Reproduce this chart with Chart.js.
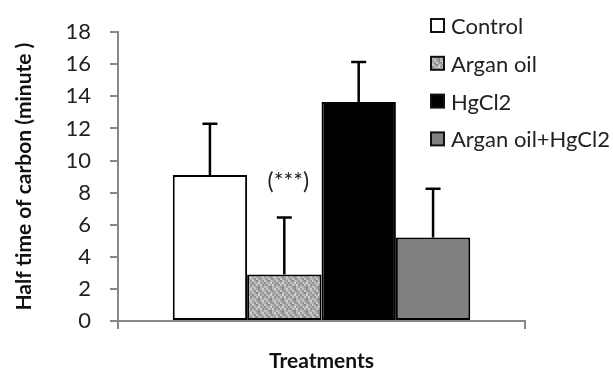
<!DOCTYPE html>
<html lang="en">
<head>
    <meta charset="UTF-8">
    <title>Half time of carbon</title>
    <script src="https://cdn.jsdelivr.net/npm/chart.js"></script>
    <style>
        body { margin: 0; background: #fff; }
        #wrap { width: 613px; height: 373px; }
    </style>
</head>
<body>
    <div id="wrap"><canvas id="chart" width="613" height="373"></canvas></div>
    <script>
        // data
        var treatments = ['Control', 'Argan oil', 'HgCl2', 'Argan oil+HgCl2'];
        var halfTime = [9.1, 2.9, 13.65, 5.2];
        var errors = [3.2, 3.55, 2.5, 3.05];
        var yTicks = [0, 2, 4, 6, 8, 10, 12, 14, 16, 18];
        var signif = ['', '(***)', '', ''];
        var signifY = [0, 8.7, 0, 0];

        var FONT = 'Lato, "Open Sans", sans-serif';

        // grainy grey fill for the argan oil bar (fixed tile, no random)
        function grainPattern() {
            var shades = [
                '#9a9a9a','#c4c4c4','#a8a8a8','#8c8c8c','#b8b8b8','#d0d0d0',
                '#b4b4b4','#909090','#cccccc','#a0a0a0','#949494','#bcbcbc',
                '#c8c8c8','#a4a4a4','#888888','#c0c0c0','#b0b0b0','#989898',
                '#8e8e8e','#bebebe','#acacac','#d4d4d4','#9c9c9c','#b2b2b2',
                '#aaaaaa','#969696','#c6c6c6','#a2a2a2','#cecece','#929292',
                '#c2c2c2','#b6b6b6','#9e9e9e','#8a8a8a','#bababa','#a6a6a6'
            ];
            var c = document.createElement('canvas');
            c.width = 12; c.height = 12;
            var g = c.getContext('2d');
            for (var i = 0; i < 36; i++) {
                g.fillStyle = shades[i];
                g.fillRect((i % 6) * 2, Math.floor(i / 6) * 2, 2, 2);
            }
            return g.createPattern(c, 'repeat');
        }

        var fills = ['#ffffff', grainPattern(), '#000000', '#808080'];

        var datasets = treatments.map(function(name, i) {
            return {
                label: name,
                data: [halfTime[i]],
                err: errors[i],
                note: signif[i],
                noteY: signifY[i],
                backgroundColor: fills[i],
                borderColor: '#000000',
                borderWidth: 2,
                borderSkipped: false,
                categoryPercentage: 0.731,
                barPercentage: 1
            };
        });

        // error bars, significance mark and legend
        var extras = {
            id: 'extras',
            afterDatasetsDraw: function(chart) {
                var ctx = chart.ctx;
                var y = chart.scales.y;
                ctx.save();
                chart.data.datasets.forEach(function(ds, i) {
                    var bar = chart.getDatasetMeta(i).data[0];
                    var top = y.getPixelForValue(ds.data[0] + ds.err);
                    ctx.strokeStyle = '#000';
                    ctx.lineWidth = 2.5;
                    ctx.beginPath();
                    ctx.moveTo(bar.x, bar.y);
                    ctx.lineTo(bar.x, top);
                    ctx.moveTo(bar.x - 7.5, top);
                    ctx.lineTo(bar.x + 7.5, top);
                    ctx.stroke();
                    if (ds.note) {
                        ctx.fillStyle = '#222';
                        ctx.font = '23px ' + FONT;
                        ctx.textAlign = 'center';
                        ctx.textBaseline = 'middle';
                        ctx.fillText(ds.note, bar.x + 4, y.getPixelForValue(ds.noteY));
                    }
                });
                ctx.restore();
            },
            afterDraw: function(chart) {
                var ctx = chart.ctx;
                ctx.save();
                ctx.font = '22px ' + FONT;
                ctx.textBaseline = 'middle';
                ctx.textAlign = 'left';
                chart.data.datasets.forEach(function(ds, i) {
                    var cy = 26 + i * 37.8;
                    ctx.fillStyle = ds.backgroundColor;
                    ctx.fillRect(431, cy - 7, 13, 13);
                    ctx.strokeStyle = '#111';
                    ctx.lineWidth = 2;
                    ctx.strokeRect(431, cy - 7, 13, 13);
                    ctx.fillStyle = '#222';
                    ctx.fillText(ds.label, 451, cy + 1);
                });
                ctx.restore();
            }
        };

        new Chart(document.getElementById('chart'), {
            type: 'bar',
            data: { labels: [''], datasets: datasets },
            options: {
                responsive: false,
                animation: false,
                layout: { padding: { left: 0, right: 88, top: 30, bottom: 0 } },
                plugins: { legend: { display: false }, tooltip: { enabled: false } },
                scales: {
                    x: {
                        grid: { drawOnChartArea: false, color: '#888', lineWidth: 2, tickLength: 8 },
                        border: { color: '#888', width: 2 },
                        ticks: { display: false },
                        title: {
                            display: true,
                            text: 'Treatments',
                            color: '#111',
                            font: { family: FONT, size: 21, weight: 'bold', lineHeight: 1 },
                            padding: { top: 0, bottom: 1 }
                        },
                        afterFit: function(s) { s.height = 52; }
                    },
                    y: {
                        min: 0,
                        max: 18,
                        afterBuildTicks: function(s) {
                            s.ticks = yTicks.map(function(v) { return { value: v }; });
                        },
                        grid: { drawOnChartArea: false, color: '#888', lineWidth: 2, tickLength: 8 },
                        border: { color: '#888', width: 2 },
                        ticks: { color: '#222', padding: 19, font: { family: FONT, size: 22 } },
                        title: {
                            display: true,
                            text: 'Half time of carbon (minute )',
                            color: '#111',
                            font: { family: FONT, size: 21, weight: 'bold', lineHeight: 1 },
                            padding: { top: 14, bottom: 0 }
                        },
                        afterFit: function(s) { s.width = 118; }
                    }
                }
            },
            plugins: [extras]
        });
    </script>
</body>
</html>
